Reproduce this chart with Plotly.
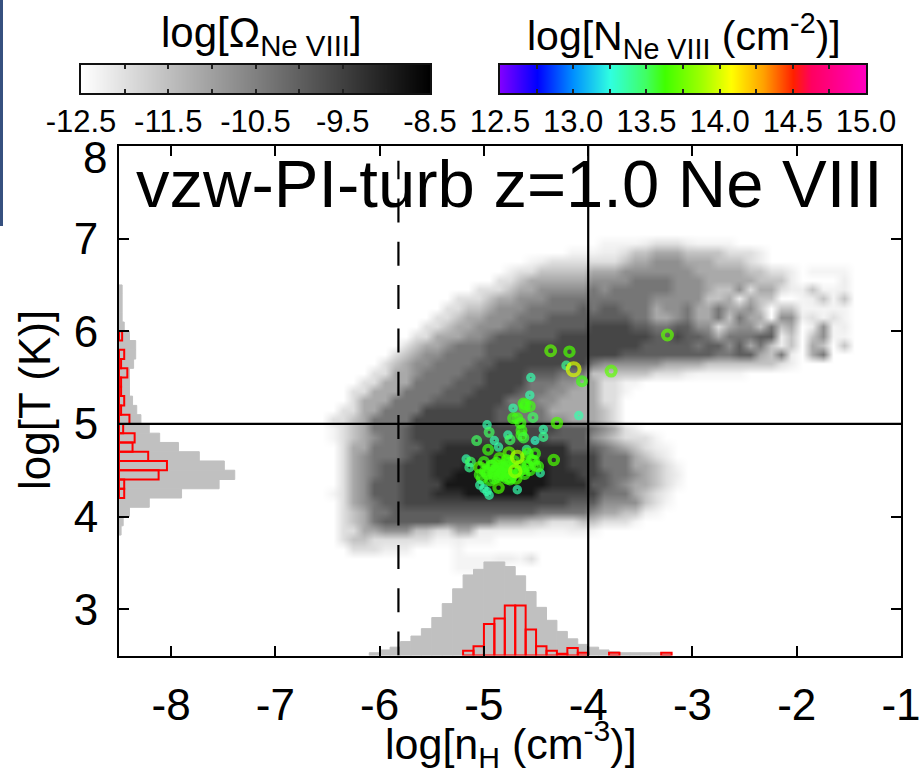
import numpy as np
import plotly.graph_objects as go

W, H = 919, 772

# Darkness of each cell of the density map (top row first, y top edge 7.0, step 0.1 dex; x from -6.5, step 0.1 dex)
omega_level_rows = [
 [0,0,0,0,0, 0,0,0,0,0, 0,0,0,0,0, 0,0,0,0,0, 0,0,0,0,0, 0,.3,.3,.3,.3, .5,1,1,1,.5, .3,.3,.3,.3,0],
 [0,0,0,0,0, 0,0,0,0,0, 0,0,0,0,0, 0,0,0,0,0, 0,0,0,.3,.3, .3,.5,.5,1,2, 2,3,3,3,2, 2,2,2,1,1, 1,.5],
 [0,0,0,0,0, 0,0,0,0,0, 0,0,0,0,0, 0,0,0,0,.3, .5,1,1,1,1, 1,1,1,2,3, 3,4,4,4,3, 3,3,2,2,2, 1,.5],
 [0,0,0,0,0, 0,0,0,0,0, 0,0,0,0,0, 0,0,.5,1,1, 2,2,2,2,2, 3,3,3,4,4, 4,4,4,4,4, 3,3,3,3,3, 2,2,1,1,.5, 0,.3,.3,.3,.3],
 [0,0,0,0,0, 0,0,0,0,0, 0,0,0,0,0, 0,1,1,2,3, 3,3,3,3,3, 4,4,4,4,5, 5,5,5,4,4, 4,3,3,3,3, 3,2,2,2,.5, 0,0,0,0,.5],
 [0,0,0,0,0, 0,0,0,0,0, 0,0,0,0,1, 1,1,2,3,3, 4,4,4,4,4, 5,4,5,5,5, 5,5,5,4,4, 4,3,2,2,4, 1,3,3,1,.5, .5,2,.3,.3,.5],
 [0,0,0,0,0, 0,0,0,0,0, 0,0,1,1,1, 2,3,3,4,4, 4,5,5,5,5, 5,5,5,5,5, 5,4,4,4,4, 4,2,2,3,.5, 3,2,2,0,0, .3,.5,2,.3,2],
 [0,0,0,0,0, 0,0,0,0,0, 0,1,1,2,2, 3,4,4,4,5, 5,5,5,5,6, 5,6,6,5,5, 5,3,4,4,5, 3,3,5,3,3, 4,2,0,2,2, .3,.3,.3,.3,.3],
 [0,0,0,0,0, 0,0,0,0,0, 1,1,2,3,3, 4,4,4,5,5, 5,6,6,6,6, 6,6,6,6,5, 5,3,3,4,5, 3,3,5,2,5, 3,3,0,4,4, .5,1,.3,1,.3],
 [0,0,0,0,0, 0,0,0,0,1, 1,2,3,3,4, 4,4,5,5,6, 6,6,6,6,6, 7,7,7,7,6, 6,5,5,6,6, 4,4,1,3,4, 4,2,5,2,3, 0,.5,4,.3,.5],
 [0,0,0,0,0, 0,0,0,1,1, 3,3,3,4,4, 5,6,6,6,6, 6,6,7,7,7, 7,7,7,7,7, 7,6,6,7,6, 6,5,3,5,5, 5,6,6,.5,2, 0,2,4,.3,.3],
 [0,0,0,0,0, 0,0,1,2,3, 3,4,5,5,5, 6,6,6,6,7, 7,7,7,7,7, 7,7,7,7,7, 6,6,6,6,6, 5,6,6,4,6, 3,5,2,.5,2, 0,3,2,0,2],
 [0,0,0,0,0, 0,1,2,3,4, 4,5,5,5,5, 6,6,6,7,7, 7,7,7,7,7, 7,7,7,6,6, 6,6,6,6,6, 6,6,5,5,6, 6,3,2,5,.5, 0,3,5,0,0],
 [0,0,0,0,0, 1,2,3,4,4, 5,5,5,5,6, 6,7,7,7,7, 7,7,7,7,7, 5,4,4,4,4, 4,4,3,3,3, 3,2,2,2,2, 2,2,2,1,.5],
 [0,0,0,0,1, 1,3,3,4,5, 5,5,5,6,6, 7,7,7,7,6, 6,6,5,5,5, 2,2,2,2,2, 2,1,1,1,.5, .3,.3,.3,.3,.3],
 [0,0,0,1,1, 3,3,3,5,5, 5,5,6,6,6, 7,7,7,7,5, 5,5,4,4,3, 3,1,1,.3,.3],
 [0,0,1,1,3, 3,3,5,5,5, 5,6,6,6,7, 7,7,7,6,5, 5,4,4,3,3, 3,1,1,.3,0],
 [0,0,1,3,3, 3,5,5,5,5, 6,6,6,7,7, 7,7,5,5,5, 4,4,3,3,3, 3,1,1,0,0],
 [0,1,1,3,3, 5,5,5,5,7, 7,7,7,7,7, 7,6,6,5,5, 5,3,3,3,3, 3,2,1,0,0],
 [1,1,2,3,5, 5,5,5,7,7, 7,7,7,7,7, 7,6,6,5,5, 5,4,4,3,3, 3,2,1,0,0],
 [.3,1,2,3,5, 5,5,6,7,7, 7,7,7,7,7, 7,7,7,7,7, 7,7,6,6,6, 5,4,3,1,.5],
 [.3,1,2,3,4, 5,5,6,7,7, 7,7,7,7,7, 7,7,7,7,7, 7,6,6,6,6, 4,3,2,1,1, 1,.3],
 [0,1,3,3,5, 5,5,6,6,7, 7,8,8,8,8, 8,8,8,8,8, 8,8,8,6,6, 6,5,4,3,2, 1,.5,.3],
 [0,1,3,4,5, 5,5,6,7,7, 8,8,8,8,8, 8,8,8,8,8, 8,8,8,7,7, 7,5,5,5,3, 2,1,.5],
 [0,1,3,4,5, 6,6,7,7,7, 8,8,8,9,9, 9,9,9,9,9, 9,8,8,7,7, 7,5,5,5,3, 3,2,1,.3],
 [0,1,3,4,5, 6,6,7,7,7, 8,8,9,9,9, 9,9,9,9,9, 9,8,8,8,7, 7,6,5,5,4, 3,2,1,.5],
 [0,1,3,4,6, 6,6,7,7,7, 7,9,9,9,9, 9,9,9,9,9, 9,8,8,8,8, 6,6,5,4,3, 3,2,1,.3],
 [.3,1,3,4,6, 6,6,7,7,7, 8,8,8,9,9, 9,9,9,9,9, 7,7,7,7,7, 7,5,5,5,3, 2,1,.5],
 [0,1,3,4,5, 6,6,7,7,7, 7,7,7,7,7, 7,7,7,7,7, 7,7,7,6,6, 6,4,4,4,4, 2,1,.3],
 [0,1,2,3,5, 5,6,6,6,6, 6,6,6,6,6, 6,6,6,6,6, 5,5,5,5,5, 4,3,3,2,2, .5,.3],
 [0,1,2,3,5, 6,6,6,6,6, 6,5,5,5,5, 5,3,3,3,2, 2,1,1,1,2, 2,1,1,1,.3],
 [0,1,1,3,3, 4,4,4,2,2, 1,1,3,3,.5, .5,.5,.5,.5,.5, .3,.3,.3,.5,.5, .3],
 [0,1,2,2,1, 1,1,1,1,1, .3,.3,.5,.3,.3, .3],
 [0,0,1,1,1, .5,.5,.5,0,0, 0,0,.3],
 [0,0,0,0,0, 0,0,0,0,0, 0,0,.3,.3,.3, .3,.5,.5,.3,1],
 [0,0,0,0,0, 0,0,0,0,0, 0,0,.3,.3,.3, .3,.3],
]

# Absorbers: log nH, log T, log N
abs_lognh = [-3.24,-4.36,-4.18,-4.21,-3.78,-4.06,-4.55,-4.56,-4.62,-4.60,-4.56,-4.61,-4.72,-4.09,-4.53,-4.72,-4.68,-4.65,-4.30,
             -4.97,-4.64,-4.64,-4.62,-4.43,-4.95,-4.43,-4.51,-4.77,-5.07,-4.90,-4.75,-4.86,-4.96,-4.59,-4.76,-4.33,-4.51,-4.58,
             -5.17,-5.13,-5.14,-5.04,-5.00,-4.93,-4.85,-4.78,-4.85,-4.89,-4.80,-4.97,-5.04,-4.85,-4.78,-4.65,-4.58,-4.54,-4.51,
             -4.61,-4.69,-4.46,-4.48,-4.94,-5.02,-4.86,-4.68,-5.04,-5.00,-4.97,-4.95,
             -4.95,-4.91,-4.88,-4.84,-4.81,-4.77,-4.74,-4.72,-4.66,-4.62,-4.90,-4.86,-4.82,-4.78,-4.75,-4.71,-4.92,-4.88,-4.83,-4.79,-4.75,-4.72,-4.56,-4.52,-4.60,-4.99,
             -4.70,-4.68,-4.14]
abs_logt = [5.96,5.79,5.78,5.63,5.57,5.46,5.50,5.31,5.22,5.21,5.19,5.18,5.17,5.09,5.07,5.06,5.06,5.01,5.01,
            4.99,4.93,4.88,4.85,4.94,4.91,4.86,4.82,4.88,4.82,4.82,4.83,4.75,4.72,4.72,4.69,4.61,4.68,4.68,
            4.62,4.59,4.53,4.53,4.59,4.55,4.55,4.61,4.63,4.50,4.50,4.46,4.45,4.45,4.41,4.55,4.55,4.61,4.55,
            4.46,4.41,4.47,4.54,4.39,4.41,4.31,4.29,4.34,4.30,4.27,4.23,
            4.50,4.46,4.52,4.49,4.44,4.47,4.42,4.52,4.49,4.51,4.41,4.43,4.53,4.57,4.40,4.60,4.55,4.58,4.47,4.54,4.58,4.45,4.50,4.60,4.64,4.49,
            4.49,4.64,5.59]
abs_logn = [13.7,13.7,13.65,13.4,13.7,13.6,13.35,13.35,13.6,13.6,13.6,13.6,13.35,13.35,13.5,13.6,13.6,13.6,13.65,
            13.35,13.6,13.6,13.55,13.35,13.5,13.4,13.3,13.35,13.5,13.35,13.5,13.35,13.6,13.4,13.7,13.65,13.6,13.6,
            13.35,13.5,13.4,13.7,13.6,13.6,13.6,13.6,13.65,13.6,13.6,13.6,13.6,13.6,13.6,13.6,13.6,13.6,13.6,
            13.6,13.65,13.35,13.6,13.6,13.6,13.65,13.35,13.35,13.35,13.35,13.35,
            13.6,13.6,13.6,13.6,13.6,13.6,13.6,13.6,13.6,13.6,13.6,13.6,13.6,13.6,13.6,13.6,13.6,13.6,13.6,13.6,13.6,13.6,13.6,13.6,13.6,13.6,
            13.85,13.9,14.0]

# Left histograms (log T bins, lengths along log nH)
hist_t_centers = [6.45,6.35,6.25,6.15,6.05,5.95,5.85,5.75,5.65,5.55,5.45,5.35,5.25,5.15,5.05,4.95,4.85,4.75,4.65,4.55,4.45,4.35,4.25,4.15,4.05,3.95,3.85]
hist_t_gray = [.03,.03,.03,.03,.05,.10,.16,.16,.14,.10,.10,.10,.13,.17,.21,.29,.39,.57,.77,1.01,1.11,.96,.60,.29,.10,.04,.02]
hist_t_red_centers = [5.95,5.75,5.65,5.55,5.45,5.35,5.25,5.15,5.05,4.95,4.85,4.75,4.65,4.55,4.45,4.35,4.25]
hist_t_red = [.03,.05,.02,.08,.02,.02,.05,.02,.10,.04,.15,.13,.28,.46,.38,.05,.05]

# Bottom histograms (log nH bins, heights along log T)
hist_n_centers = [-6.05,-5.95,-5.85,-5.75,-5.65,-5.55,-5.45,-5.35,-5.25,-5.15,-5.05,-4.95,-4.85,-4.75,-4.65,-4.55,-4.45,-4.35,-4.25,-4.15,-4.05,-3.95,-3.85,-3.75,-3.65,-3.55,-3.45,-3.35,-3.25]
hist_n_gray = [.03,.06,.09,.15,.21,.29,.41,.56,.72,.87,.93,1.01,1.01,.96,.86,.69,.52,.38,.26,.18,.12,.09,.06,.04,.03,.03,.03,.03,.03]
hist_n_red_centers = [-5.15,-5.05,-4.95,-4.85,-4.75,-4.65,-4.55,-4.45,-4.35,-4.25,-4.15,-4.05,-3.75,-3.25]
hist_n_red = [.05,.10,.34,.40,.54,.54,.28,.10,.05,.02,.08,.03,.03,.03]

x_ticks = [-8,-7,-6,-5,-4,-3,-2,-1]
y_ticks = [3,4,5,6,7,8]
omega_ticks = [-12.5,-12,-11.5,-11,-10.5,-10,-9.5,-9,-8.5]
omega_labels = ["-12.5","","-11.5","","-10.5","","-9.5","","-8.5"]
n_ticks = [12.5,12.75,13,13.25,13.5,13.75,14,14.25,14.5,14.75,15]
n_labels = ["12.5","","13.0","","13.5","","14.0","","14.5","","15.0"]

rainbow = [[0,"#8000ff"],[.1,"#0000ff"],[.2,"#0090ff"],[.3,"#30ffe0"],[.4,"#40ff60"],[.45,"#40ff00"],
           [.55,"#a0ff00"],[.63,"#ffff00"],[.72,"#ffa000"],[.8,"#ff2000"],[.85,"#ff0060"],[1,"#ff00c0"]]
grayscale = [[0,"#ffffff"],[1,"#000000"]]

FONT = "Liberation Sans"
n_cols = 50
# pad with one blank row and column on every side so the smoothed edges fade out
blank = [-12.5]*(n_cols+2)
def to_log_omega(level):
    return -12.5 + 0.40*10*(level/10)**0.9
z = [blank] + [[-12.5] + [to_log_omega(v) for v in (r + [0]*(n_cols-len(r)))] + [-12.5] for r in omega_level_rows] + [blank]
x_cells = [-6.55 + 0.1*i for i in range(n_cols+2)]
y_cells = [7.05 - 0.1*i for i in range(len(omega_level_rows)+2)]

fig = go.Figure()
fig.add_trace(go.Heatmap(x=x_cells, y=y_cells, z=z, zmin=-12.5, zmax=-8.5, colorscale=grayscale,
                         zsmooth="best", showscale=False, hoverinfo="skip"))
# Histograms
gray_line = dict(color="#c0c0c0", width=1)
fig.add_trace(go.Bar(orientation="h", y=hist_t_centers, x=hist_t_gray, base=-8.5, width=0.1,
                     marker=dict(color="#c0c0c0", line=gray_line)))
fig.add_trace(go.Bar(orientation="v", x=hist_n_centers, y=hist_n_gray, base=2.5, width=0.1,
                     marker=dict(color="#c0c0c0", line=gray_line)))
fig.add_trace(go.Bar(orientation="h", y=hist_t_red_centers, x=hist_t_red, base=-8.5, width=0.1,
                     marker=dict(color="rgba(0,0,0,0)", line=dict(color="#ff0000", width=2))))
fig.add_trace(go.Bar(orientation="v", x=hist_n_red_centers, y=hist_n_red, base=2.5, width=0.1,
                     marker=dict(color="rgba(0,0,0,0)", line=dict(color="#ff0000", width=2))))
# Reference lines
fig.add_trace(go.Scatter(x=[-5.82,-5.82], y=[2.5,7.84], mode="lines", line=dict(color="black", width=2.2, dash="24px,19.3px")))
fig.add_trace(go.Scatter(x=[-4,-4], y=[2.5,8], mode="lines", line=dict(color="black", width=2.2)))
fig.add_trace(go.Scatter(x=[-8.5,-1], y=[5,5], mode="lines", line=dict(color="black", width=2.2)))
# Absorbers
fig.add_trace(go.Scatter(x=abs_lognh, y=abs_logt, mode="markers",
    marker=dict(symbol="circle-open", color=abs_logn, cmin=12.5, cmax=15, colorscale=rainbow,
                size=[5.5 + 10*(n-13.35) for n in abs_logn], line=dict(width=4))))
# Colour bars
fig.add_trace(go.Heatmap(x=omega_ticks, y=[0,1], z=[omega_ticks, omega_ticks], zmin=-12.5, zmax=-8.5,
                         colorscale=grayscale, zsmooth="best", showscale=False, xaxis="x2", yaxis="y2"))
fig.add_trace(go.Heatmap(x=n_ticks, y=[0,1], z=[n_ticks, n_ticks], zmin=12.5, zmax=15,
                         colorscale=rainbow, zsmooth="best", showscale=False, xaxis="x3", yaxis="y3"))

px_x = lambda p: p/W
px_y = lambda p: 1-p/H
main_axis = dict(showgrid=False, zeroline=False, showline=True, linecolor="black", linewidth=2, mirror="ticks",
                 ticks="inside", ticklen=10, tickwidth=2, tickcolor="black", ticklabeloverflow="allow",
                 tickfont=dict(family=FONT, size=44, color="black"))
fig.update_layout(
    width=W, height=H, margin=dict(l=0, r=0, t=0, b=0, autoexpand=False), autosize=False, showlegend=False, barmode="overlay",
    plot_bgcolor="white", paper_bgcolor="white",
    xaxis=dict(main_axis, domain=[px_x(119), px_x(901)], range=[-8.5,-1], tickvals=x_ticks,
               ticktext=[str(t) for t in x_ticks], ticklabelstandoff=10, anchor="y"),
    yaxis=dict(main_axis, domain=[px_y(655.5), px_y(146)], range=[2.5,8], tickvals=y_ticks,
               ticktext=[str(t) if t != 8 else "" for t in y_ticks], ticklabelstandoff=10, anchor="x"),
)
bar_x = dict(showgrid=False, zeroline=False, showline=True, linecolor="#111111", linewidth=2, mirror="ticks",
             ticks="inside", ticklen=4, tickwidth=1.5, tickcolor="#222222",
             tickfont=dict(family=FONT, size=31, color="black"), ticklabelstandoff=0, tickangle=0)
bar_y = dict(showgrid=False, zeroline=False, showline=True, linecolor="#111111", linewidth=2, mirror=True,
             ticks="", showticklabels=False, range=[0,1])
fig.update_layout(
    xaxis2=dict(bar_x, domain=[px_x(81), px_x(430)], range=[-12.5,-8.5], tickvals=omega_ticks, ticktext=omega_labels, anchor="y2"),
    yaxis2=dict(bar_y, domain=[px_y(93), px_y(65)], anchor="x2"),
    xaxis3=dict(bar_x, domain=[px_x(500), px_x(866)], range=[12.5,15], tickvals=n_ticks, ticktext=n_labels, anchor="y3"),
    yaxis3=dict(bar_y, domain=[px_y(93), px_y(65)], anchor="x3"),
)

def note(text, x, y, size, angle=0):
    fig.add_annotation(text=text, x=px_x(x), y=px_y(y), xref="paper", yref="paper", showarrow=False,
                       xanchor="center", yanchor="middle", textangle=angle,
                       font=dict(family=FONT, size=size, color="black"))

note("vzw-PI-turb z=1.0 Ne VIII", 509, 184, 67)
note("8", 95, 157, 44)
note("log[Ω<sub>Ne VIII</sub>]", 261, 36, 42)
note("log[N<sub>Ne VIII</sub> (cm<sup>-2</sup>)]", 684, 36, 41)
note("log[n<sub>H</sub> (cm<sup>-3</sup>)]", 511, 744, 43)
note("log[T (K)]", 35, 400, 44, angle=-90)

fig.add_shape(type="rect", xref="paper", yref="paper", x0=0, x1=px_x(3), y0=px_y(226), y1=1,
              fillcolor="#36507f", line=dict(width=0))

fig.write_html("out.html", post_script="document.body.style.margin='0';", config={"displayModeBar": False})
